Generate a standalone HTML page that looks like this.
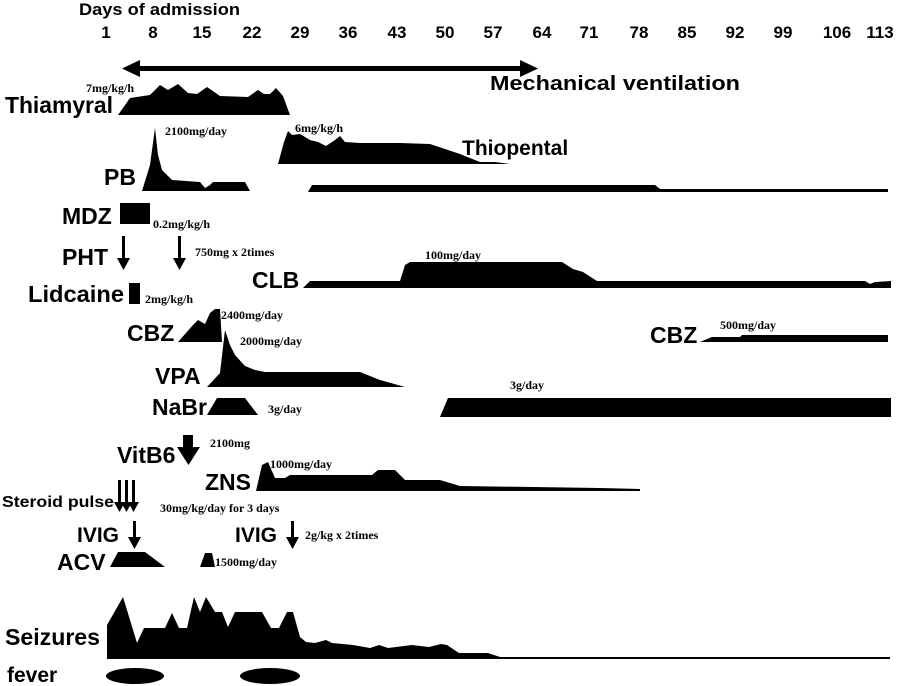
<!DOCTYPE html>
<html><head><meta charset="utf-8"><style>
html,body{margin:0;padding:0;background:#fff;}
svg{display:block;}
.l{font-family:"Liberation Sans",Arial,sans-serif;font-weight:bold;fill:#000;}
.s{font-family:"Liberation Serif","Times New Roman",serif;font-weight:bold;font-size:12px;fill:#000;}
</style></head><body>
<svg width="906" height="686" viewBox="0 0 906 686" xmlns="http://www.w3.org/2000/svg">
<text class="l" x="79" y="15" font-size="17" textLength="161" lengthAdjust="spacingAndGlyphs">Days of admission</text>
<g class="l" font-size="17" text-anchor="middle">
<text x="106" y="38">1</text><text x="153" y="38">8</text><text x="202" y="38">15</text><text x="252" y="38">22</text><text x="300" y="38">29</text><text x="348" y="38">36</text><text x="397" y="38">43</text><text x="445" y="38">50</text><text x="493" y="38">57</text><text x="542" y="38">64</text><text x="589" y="38">71</text><text x="639" y="38">78</text><text x="687" y="38">85</text><text x="735" y="38">92</text><text x="783" y="38">99</text><text x="837" y="38">106</text><text x="880" y="38">113</text>
</g>
<!-- ventilation arrow -->
<rect x="138" y="66" width="384" height="5"/>
<polygon points="122,68.5 140,60 140,77"/>
<polygon points="538,68.5 520,60 520,77"/>
<text class="l" x="490" y="90" font-size="20" textLength="250" lengthAdjust="spacingAndGlyphs">Mechanical ventilation</text>

<text class="l" x="5" y="113" font-size="23" textLength="108" lengthAdjust="spacingAndGlyphs">Thiamyral</text>
<polygon points="118,115 130,98 150,95 160,85 168,90 178,84 188,93 197,94 207,87 220,96 248,97 258,90 264,94 270,94 276,88 283,96 290,115"/>
<text class="s" x="86" y="92">7mg/kg/h</text>

<text class="l" x="104" y="185" font-size="23">PB</text>
<polygon points="142,191 150,165 155,128 158,155 162,170 172,180 200,182 205,188 210,185 213,182 245,182 250,191"/>
<text class="s" x="165" y="135">2100mg/day</text>

<polygon points="278,164 284,142 288,131 292,135 300,134 310,140 318,142 326,146 335,140 340,136 345,142 360,143 400,143 430,144 460,154 480,162 495,162 510,164"/>
<text class="s" x="295" y="132">6mg/kg/h</text>
<text class="l" x="462" y="155" font-size="21">Thiopental</text>
<polygon points="308,192 312,185 655,185 660,189 888,189 888,192"/>

<text class="l" x="62" y="224" font-size="23">MDZ</text>
<rect x="120" y="203" width="30" height="21"/>
<text class="s" x="153" y="228">0.2mg/kg/h</text>

<text class="l" x="62" y="265" font-size="23">PHT</text>
<rect x="122" y="236" width="3" height="24"/><polygon points="117,258 130,258 123.5,270"/>
<rect x="178" y="236" width="3" height="24"/><polygon points="173,258 186,258 179.5,270"/>
<text class="s" x="195" y="256">750mg x 2times</text>

<text class="l" x="252" y="288" font-size="23">CLB</text>
<polygon points="303,288 310,281 400,281 405,265 410,262 562,262 573,269 583,272 597,281 865,281 870,284 875,282 891,281 891,288"/>
<text class="s" x="425" y="259">100mg/day</text>

<text class="l" x="28" y="302" font-size="23" textLength="96" lengthAdjust="spacingAndGlyphs">Lidcaine</text>
<rect x="129" y="283" width="11" height="21"/>
<text class="s" x="145" y="303">2mg/kg/h</text>

<text class="l" x="127" y="341" font-size="23">CBZ</text>
<polygon points="178,342 193,325 198,320 205,324 210,313 215,309 220,309 222,342"/>
<text class="s" x="221" y="319">2400mg/day</text>
<text class="l" x="650" y="343" font-size="23">CBZ</text>
<polygon points="700,342 712,337 740,337 742,335 888,335 888,342"/>
<text class="s" x="720" y="329">500mg/day</text>

<text class="l" x="155" y="384" font-size="23">VPA</text>
<polygon points="207,387 220,373 225,330 230,345 235,355 245,366 255,370 265,372 360,372 380,380 405,387"/>
<text class="s" x="240" y="345">2000mg/day</text>

<text class="l" x="152" y="415" font-size="23">NaBr</text>
<polygon points="207,415 217,398 245,398 258,415"/>
<text class="s" x="268" y="413">3g/day</text>
<polygon points="440,417 448,398 891,398 891,417"/>
<text class="s" x="510" y="389">3g/day</text>

<text class="l" x="117" y="463" font-size="23">VitB6</text>
<rect x="183" y="435" width="10" height="13"/><polygon points="177,447 200,447 188.5,465"/>
<text class="s" x="210" y="447">2100mg</text>

<text class="l" x="205" y="490" font-size="23">ZNS</text>
<polygon points="256,491 262,465 268,462 275,478 285,478 290,475 372,475 378,470 395,470 405,480 440,480 460,486 600,488 640,489 640,491"/>
<text class="s" x="270" y="468">1000mg/day</text>

<text class="l" x="2" y="507" font-size="16" textLength="112" lengthAdjust="spacingAndGlyphs">Steroid pulse</text>
<g>
<rect x="118" y="480" width="3" height="24"/><polygon points="114,502 125,502 119.5,512"/>
<rect x="125" y="480" width="3" height="24"/><polygon points="121,502 132,502 126.5,512"/>
<rect x="132" y="480" width="3" height="24"/><polygon points="128,502 139,502 133.5,512"/>
</g>
<text class="s" x="160" y="512">30mg/kg/day for 3 days</text>

<text class="l" x="77" y="542" font-size="21">IVIG</text>
<rect x="133" y="521" width="3" height="18"/><polygon points="128,537 141,537 134.5,549"/>
<text class="l" x="235" y="542" font-size="21">IVIG</text>
<rect x="291" y="521" width="3" height="18"/><polygon points="286,537 299,537 292.5,549"/>
<text class="s" x="305" y="539">2g/kg x 2times</text>

<text class="l" x="57" y="570" font-size="23">ACV</text>
<polygon points="110,567 118,552 145,552 165,567"/>
<polygon points="200,567 205,553 212,553 215,567"/>
<text class="s" x="215" y="566">1500mg/day</text>

<text class="l" x="5" y="645" font-size="23" textLength="95" lengthAdjust="spacingAndGlyphs">Seizures</text>
<polygon points="107,659 107,625 123,597 137,643 144,628 165,628 172,613 179,628 187,628 194,597 200,612 206,597 215,612 222,612 228,627 235,612 262,612 271,628 279,628 287,612 293,612 300,637 306,642 315,643 326,640 332,643 353,645 370,648 379,645 388,648 412,645 429,647 441,644 447,645 459,653 488,653 500,657 890,657 890,659"/>

<text class="l" x="7" y="682" font-size="21">fever</text>
<ellipse cx="135" cy="676" rx="29" ry="8"/>
<ellipse cx="270" cy="676" rx="30" ry="8"/>
</svg>
</body></html>
